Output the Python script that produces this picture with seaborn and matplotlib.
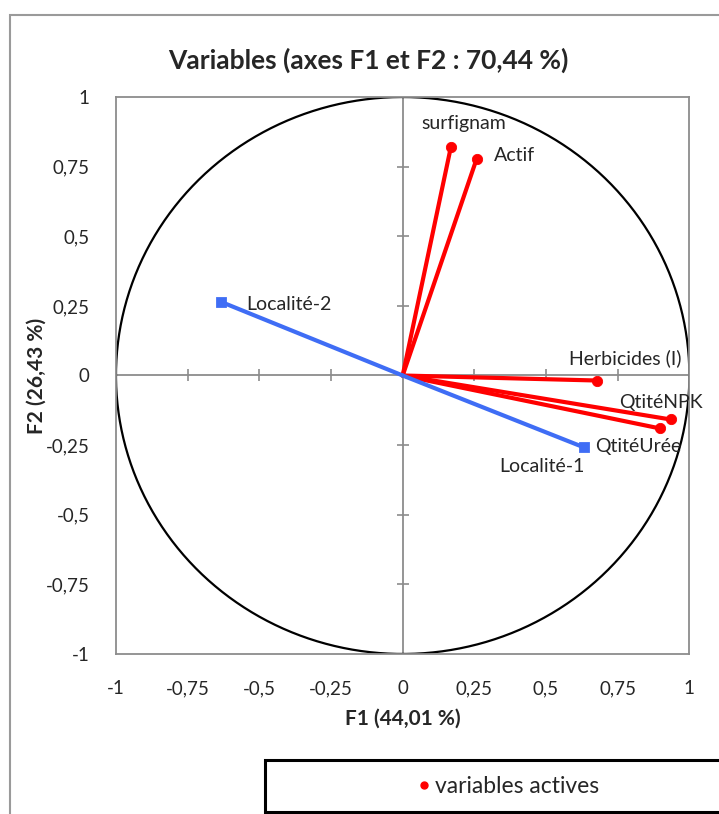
import numpy as np
import pandas as pd
import seaborn as sns
import matplotlib.pyplot as plt
from matplotlib.patches import Rectangle
from matplotlib.lines import Line2D

# PCA correlation circle data (F1, F2)
active_names = ["surfignam", "Actif", "Herbicides (I)", "QtitéNPK", "QtitéUrée"]
active_f1 = [0.168, 0.258, 0.677, 0.935, 0.897]
active_f2 = [0.82, 0.778, -0.018, -0.158, -0.19]

supp_names = ["Localité-1", "Localité-2"]
supp_f1 = [0.632, -0.635]
supp_f2 = [-0.258, 0.265]

# label offsets in pixels
active_offsets = [(13, 24), (17, 3), (28, 22), (-10, 17), (-65, -18)]
active_ha = ["center", "left", "center", "center", "left"]
supp_offsets = [(-42, -19), (26, -3)]
supp_ha = ["center", "left"]

tick_vals = [-1, -0.75, -0.5, -0.25, 0, 0.25, 0.5, 0.75, 1]
tick_labels = ["-1", "-0,75", "-0,5", "-0,25", "0", "0,25", "0,5", "0,75", "1"]

sns.set_style("white")
plt.rcParams["font.family"] = ["Lato", "DejaVu Sans"]

fig = plt.figure(figsize=(7.19, 8.14), dpi=100)
ax = fig.add_axes([0.1613, 0.1966, 0.7975, 0.6842])

red = "#ff0000"
blue = "#3f6df5"
txt = "#262626"

# circle
theta = np.linspace(0, 2 * np.pi, 400)
ax.plot(np.cos(theta), np.sin(theta), color="black", lw=1.6, zorder=2)

# zero axes with crossing ticks
ax.axhline(0, color="#8c8c8c", lw=1.3, zorder=1)
ax.axvline(0, color="#8c8c8c", lw=1.3, zorder=1)
inner = [t for t in tick_vals if t not in (-1, 0, 1)]
ax.plot(inner, [0] * len(inner), ls="none", marker="|", ms=9, mew=1.2, color="#8c8c8c", zorder=1)
ax.plot([0] * len(inner), inner, ls="none", marker="_", ms=9, mew=1.2, color="#8c8c8c", zorder=1)

# vectors
for x, y in zip(active_f1, active_f2):
    ax.plot([0, x], [0, y], color=red, lw=3, zorder=3)
for x, y in zip(supp_f1, supp_f2):
    ax.plot([0, x], [0, y], color=blue, lw=3, zorder=3)

df_act = pd.DataFrame({"F1": active_f1, "F2": active_f2})
df_sup = pd.DataFrame({"F1": supp_f1, "F2": supp_f2})
sns.scatterplot(data=df_act, x="F1", y="F2", ax=ax, color=red, marker="o", s=55,
                edgecolor=red, zorder=4, legend=False)
sns.scatterplot(data=df_sup, x="F1", y="F2", ax=ax, color=blue, marker="s", s=50,
                edgecolor=blue, zorder=4, legend=False)

for name, x, y, off, ha in zip(active_names, active_f1, active_f2, active_offsets, active_ha):
    ax.annotate(name, (x, y), xytext=off, textcoords="offset pixels", ha=ha, va="center",
                fontsize=14, color=txt, zorder=5)
for name, x, y, off, ha in zip(supp_names, supp_f1, supp_f2, supp_offsets, supp_ha):
    ax.annotate(name, (x, y), xytext=off, textcoords="offset pixels", ha=ha, va="center",
                fontsize=14, color=txt, zorder=5)

ax.set_xlim(-1, 1)
ax.set_ylim(-1, 1)
ax.set_xticks(tick_vals)
ax.set_xticklabels(tick_labels)
ax.set_yticks(tick_vals)
ax.set_yticklabels(tick_labels)
ax.tick_params(axis="both", length=0, pad=19, labelsize=13.5, labelcolor=txt)
for s in ax.spines.values():
    s.set_color("#8c8c8c")
    s.set_linewidth(1.3)

ax.set_xlabel("F1 (44,01 %)", fontsize=15, fontweight="bold", color=txt, labelpad=8)
ax.set_ylabel("F2 (26,43 %)", fontsize=15, fontweight="bold", color=txt, labelpad=-1)
fig.text(0.512, 0.926, "Variables (axes F1 et F2 : 70,44 %)", ha="center", va="center",
         fontsize=19, fontweight="bold", color=txt)

# outer frame
fig.patches.append(Rectangle((10 / 719, -0.1), 1.2, (814 - 15) / 814 + 0.1,
                             transform=fig.transFigure, fill=False, edgecolor="#9a9a9a", lw=1.5))
# legend box
fig.patches.append(Rectangle((265 / 719, 2 / 814), 1.0, 52 / 814,
                             transform=fig.transFigure, fill=True, facecolor="white",
                             edgecolor="black", lw=2.2))
handle = Line2D([], [], ls="none", marker="o", color=red, ms=5)
fig.legend([handle], ["variables actives"], loc="center", bbox_to_anchor=(0.705, 0.034),
           frameon=False, fontsize=16.5, handletextpad=0.1, handlelength=0.8,
           labelcolor=txt)

fig.savefig("out.png", dpi=100)
